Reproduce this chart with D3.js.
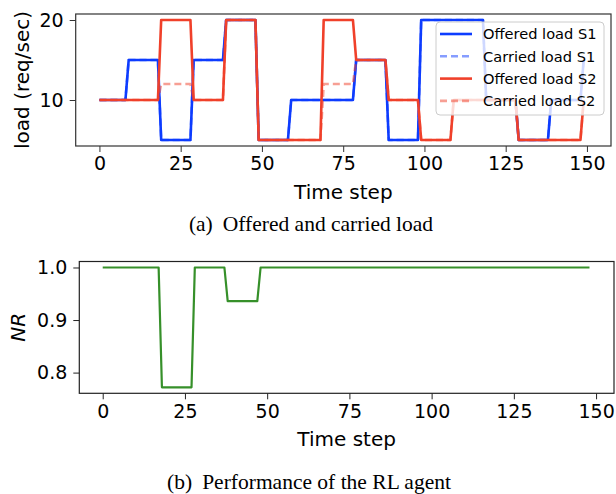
<!DOCTYPE html>
<html>
<head>
<meta charset="utf-8">
<script src="https://cdn.jsdelivr.net/npm/d3@7"></script>
<style>
  body { margin: 0; background: #fff; }
  svg text { font-family: "DejaVu Sans", sans-serif; fill: #000; }
  .caption { font-family: "Liberation Serif", "Times New Roman", serif; }
</style>
</head>
<body>
<div id="chart"></div>
<script>
// break points of the step series (time steps) and the values there
const timeSteps = [0, 8, 9, 18, 19, 28, 29, 38, 39, 48, 49, 58, 59, 68, 69, 78, 79, 88, 89, 98, 99, 108, 109, 118, 119, 128, 129, 138, 139, 148, 149];
const offeredS1 = [10, 10, 15, 15, 5, 5, 15, 15, 20, 20, 5, 5, 10, 10, 10, 10, 15, 15, 5, 5, 20, 20, 20, 20, 10, 10, 5, 5, 10, 10, 15];
const carriedS1 = [10, 10, 15, 15, 5, 5, 15, 15, 20, 20, 5, 5, 10, 10, 10, 10, 15, 15, 5, 5, 20, 20, 20, 20, 10, 10, 5, 5, 10, 10, 15];
const offeredS2 = [10, 10, 10, 10, 20, 20, 10, 10, 20, 20, 5, 5, 5, 5, 20, 20, 15, 15, 10, 10, 5, 5, 10, 10, 10, 10, 5, 5, 5, 5, 10];
const carriedS2 = [10, 10, 10, 10, 12, 12, 10, 10, 20, 20, 5, 5, 5, 5, 12, 12, 15, 15, 10, 10, 5, 5, 10, 10, 10, 10, 5, 5, 5, 5, 10];

const nrSteps = [0, 17, 18, 27, 28, 37, 38, 47, 48, 148];
const nrValues = [1, 1, 0.772, 0.772, 1, 1, 0.936, 0.936, 1, 1];

const xTicks = [0, 25, 50, 75, 100, 125, 150];
const loadTicks = [10, 20];
const nrTicks = [0.8, 0.9, 1.0];

const blue = "#0d3cff";
const red = "#f0402a";
const green = "#36902a";

const svg = d3.select("#chart")
  .append("svg")
  .attr("width", 616)
  .attr("height", 494);

// ---------- (a) load ----------
const a = { left: 75.7, right: 611, top: 14, bottom: 146 };

const xA = d3.scaleLinear().domain([-7.3, 157.4]).range([a.left, a.right]);
const yA = d3.scaleLinear().domain([4.25, 20.75]).range([a.bottom, a.top]);

const gA = svg.append("g");

gA.append("g")
  .attr("transform", `translate(0,${a.bottom})`)
  .call(d3.axisBottom(xA).tickValues(xTicks).tickSize(6).tickPadding(5).tickSizeOuter(0))
  .call(g => g.select(".domain").remove())
  .call(g => g.selectAll("line").attr("stroke", "#333"))
  .selectAll("text").style("font-size", "19px");

gA.append("g")
  .attr("transform", `translate(${a.left},0)`)
  .call(d3.axisLeft(yA).tickValues(loadTicks).tickSize(6).tickPadding(6).tickSizeOuter(0))
  .call(g => g.select(".domain").remove())
  .call(g => g.selectAll("line").attr("stroke", "#333"))
  .selectAll("text").style("font-size", "19px");

const series = [
  { name: "Offered load S1", values: offeredS1, color: blue, dash: null, opacity: 1 },
  { name: "Carried load S1", values: carriedS1, color: blue, dash: "7,4", opacity: 0.5 },
  { name: "Offered load S2", values: offeredS2, color: red, dash: null, opacity: 1 },
  { name: "Carried load S2", values: carriedS2, color: red, dash: "7,4", opacity: 0.5 }
];

const lineA = d3.line()
  .x((d, i) => xA(timeSteps[i]))
  .y(d => yA(d));

gA.selectAll(".load")
  .data(series)
  .enter()
  .append("path")
  .attr("class", "load")
  .attr("d", d => lineA(d.values))
  .attr("fill", "none")
  .attr("stroke", d => d.color)
  .attr("stroke-width", 2.6)
  .attr("stroke-opacity", d => d.opacity)
  .attr("stroke-dasharray", d => d.dash)
  .attr("stroke-linejoin", "round");

gA.append("rect")
  .attr("x", a.left).attr("y", a.top)
  .attr("width", a.right - a.left).attr("height", a.bottom - a.top)
  .attr("fill", "none").attr("stroke", "#333").attr("stroke-width", 1.2);

// legend
const legend = gA.append("g").attr("transform", "translate(436,22)");
legend.append("rect")
  .attr("width", 168).attr("height", 93).attr("rx", 4)
  .attr("fill", "#fff").attr("fill-opacity", 0.8)
  .attr("stroke", "#cccccc");

const item = legend.selectAll(".item")
  .data(series)
  .enter()
  .append("g")
  .attr("transform", (d, i) => `translate(0,${12 + i * 22.3})`);

item.append("line")
  .attr("x1", 4).attr("x2", 36)
  .attr("stroke", d => d.color)
  .attr("stroke-width", 2.6)
  .attr("stroke-opacity", d => d.opacity)
  .attr("stroke-dasharray", d => d.dash);

item.append("text")
  .attr("x", 47)
  .attr("dy", "0.36em")
  .style("font-size", "14.6px")
  .text(d => d.name);

gA.append("text")
  .attr("text-anchor", "middle")
  .attr("x", (a.left + a.right) / 2)
  .attr("y", 199)
  .style("font-size", "20px")
  .text("Time step");

gA.append("text")
  .attr("text-anchor", "middle")
  .attr("transform", `translate(29,${(a.top + a.bottom) / 2}) rotate(-90)`)
  .style("font-size", "20px")
  .text("load (req/sec)");

const capA = gA.append("text")
  .attr("class", "caption")
  .attr("text-anchor", "middle")
  .attr("x", 311)
  .attr("y", 231)
  .style("font-size", "21.5px");
capA.append("tspan").text("(a)");
capA.append("tspan").attr("dx", 10).text("Offered and carried load");

// ---------- (b) NR ----------
const b = { left: 79.3, right: 614, top: 261.5, bottom: 393.3 };

const xB = d3.scaleLinear().domain([-7.12, 155.45]).range([b.left, b.right]);
const yB = d3.scaleLinear().domain([0.7606, 1.0114]).range([b.bottom, b.top]);

const gB = svg.append("g");

gB.append("g")
  .attr("transform", `translate(0,${b.bottom})`)
  .call(d3.axisBottom(xB).tickValues(xTicks).tickSize(6).tickPadding(5).tickSizeOuter(0))
  .call(g => g.select(".domain").remove())
  .call(g => g.selectAll("line").attr("stroke", "#222"))
  .selectAll("text").style("font-size", "19px");

gB.append("g")
  .attr("transform", `translate(${b.left},0)`)
  .call(d3.axisLeft(yB).tickValues(nrTicks).tickFormat(d3.format(".1f")).tickSize(6).tickPadding(6).tickSizeOuter(0))
  .call(g => g.select(".domain").remove())
  .call(g => g.selectAll("line").attr("stroke", "#222"))
  .selectAll("text").style("font-size", "19px");

const lineB = d3.line()
  .x((d, i) => xB(nrSteps[i]))
  .y(d => yB(d));

gB.append("path")
  .attr("d", lineB(nrValues))
  .attr("fill", "none")
  .attr("stroke", green)
  .attr("stroke-width", 2.2)
  .attr("stroke-linejoin", "round");

gB.append("rect")
  .attr("x", b.left).attr("y", b.top)
  .attr("width", b.right - b.left).attr("height", b.bottom - b.top)
  .attr("fill", "none").attr("stroke", "#222").attr("stroke-width", 1.2);

gB.append("text")
  .attr("text-anchor", "middle")
  .attr("x", (b.left + b.right) / 2)
  .attr("y", 446)
  .style("font-size", "20px")
  .text("Time step");

gB.append("text")
  .attr("text-anchor", "middle")
  .attr("transform", `translate(25,${(b.top + b.bottom) / 2}) rotate(-90)`)
  .style("font-size", "20px")
  .style("font-style", "italic")
  .text("NR");

const capB = gB.append("text")
  .attr("class", "caption")
  .attr("text-anchor", "middle")
  .attr("x", 309)
  .attr("y", 489)
  .style("font-size", "21.5px");
capB.append("tspan").text("(b)");
capB.append("tspan").attr("dx", 10).text("Performance of the RL agent");
</script>
</body>
</html>
